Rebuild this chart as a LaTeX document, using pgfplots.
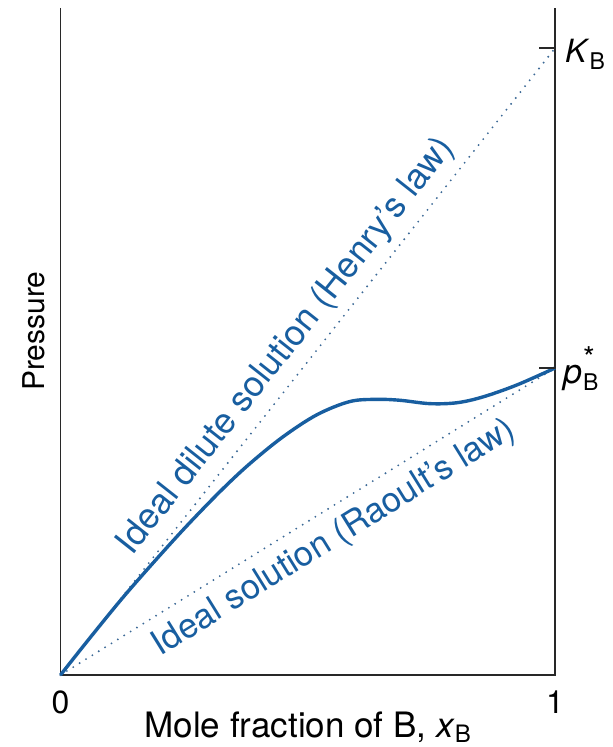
\documentclass[border=0pt]{standalone}
\usepackage{fontspec}
\setmainfont{TeX Gyre Heros}
\usepackage{pgfplots}
\pgfplotsset{compat=1.18}
\definecolor{cblue}{RGB}{24,94,160}
\definecolor{dblue}{RGB}{60,105,150}
\definecolor{frame}{RGB}{40,40,40}
\begin{document}
\begin{tikzpicture}
\begin{axis}[
  scale only axis,
  width=494.5pt, height=667pt,
  xmin=0, xmax=1, ymin=0, ymax=2.173,
  hide axis, clip=false,
]
\coordinate (O) at (axis cs:0,0);
% frame
\draw[frame, line width=1.8pt] (rel axis cs:0,1) -- (rel axis cs:0,0) -- (rel axis cs:1,0) -- (rel axis cs:1,1);
% Henry's law line
\addplot[dblue, line width=2.1pt, line cap=round, dash pattern=on 0pt off 7.5pt] coordinates {(0,0) (1,2.042)};
% Raoult's law line
\addplot[dblue, line width=2.1pt, line cap=round, dash pattern=on 0pt off 7.5pt] coordinates {(0,0) (1,1)};
% real curve
\addplot[cblue, line width=3.4pt, smooth, tension=0.55] coordinates {
 (0,0) (0.0556,0.113) (0.1244,0.249) (0.1911,0.372) (0.2578,0.490) (0.3266,0.604)
 (0.3832,0.689) (0.4499,0.776) (0.5187,0.848) (0.5854,0.891) (0.6400,0.898)
 (0.6866,0.895) (0.7472,0.884) (0.8018,0.887) (0.8544,0.906) (0.9231,0.945) (1,1)};
% ticks on right
\draw[frame, line width=1.8pt] (axis cs:1,2.042) -- ++(-16pt,0);
\draw[frame, line width=1.8pt] (axis cs:1,1) -- ++(-16pt,0);
% right labels
\node[anchor=base west, inner sep=0pt, xshift=10pt, yshift=-14pt, font=\fontsize{32}{36}\selectfont] at (axis cs:1,2.042)
  {\textit{K}\raisebox{-0.22em}{\fontsize{23}{24}\selectfont B}};
\node[anchor=base west, inner sep=0pt, xshift=8pt, yshift=-15pt, font=\fontsize{34}{38}\selectfont] at (axis cs:1,1)
  {\textit{p}\kern1pt\makebox[0pt][l]{\raisebox{0.42em}{\fontsize{30}{30}\selectfont *}}\raisebox{-0.22em}{\fontsize{23}{24}\selectfont B}};
% x tick labels
\node[anchor=base, inner sep=0pt, yshift=-38pt, font=\fontsize{32}{36}\selectfont] at (axis cs:0,0) {0};
\node[anchor=base, inner sep=0pt, yshift=-38pt, font=\fontsize{32}{36}\selectfont] at (axis cs:1,0) {1};
% axis labels
\node[anchor=base, inner sep=0pt, yshift=-62pt, font=\fontsize{35}{40}\selectfont] at (axis cs:0.5,0)
  {Mole fraction of B, \textit{x}\raisebox{-0.16em}{\fontsize{24}{26}\selectfont B}};
\node[anchor=base, inner sep=0pt, rotate=90, yshift=15.5pt, font=\fontsize{30}{34}\selectfont] at (axis cs:0,1.12) {Pressure};
% law labels
\node[cblue, rotate=51.7, inner sep=0pt, font=\fontsize{35.5}{40}\selectfont] at (axis cs:0.457,1.070)
  {Ideal dilute solution (Henry’s law)};
\node[cblue, rotate=31.8, inner sep=0pt, font=\fontsize{34.5}{40}\selectfont] at (axis cs:0.554,0.446)
  {Ideal solution (Raoult’s law)};
\end{axis}
\pgfresetboundingbox
\path (O) ++(-60.5pt,-72pt) rectangle ++(613pt,747pt);
\end{tikzpicture}
\end{document}
